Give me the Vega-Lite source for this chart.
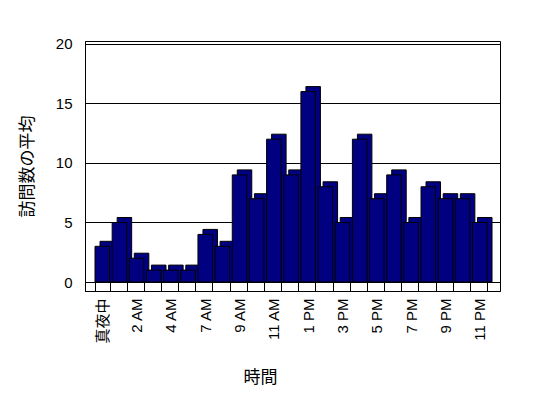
{
  "$schema": "https://vega.github.io/schema/vega-lite/v6.json",
  "width": 415,
  "height": 250,
  "autosize": "none",
  "padding": {"left": 85, "top": 41, "right": 48, "bottom": 107},
  "background": "white",
  "config": {
    "view": {"stroke": "black", "strokeWidth": 1},
    "font": "Liberation Sans, Noto Sans CJK JP"
  },
  "data": {
    "values": [
      {"hour": "真夜中", "visits": 3},
      {"hour": "1 AM", "visits": 5},
      {"hour": "2 AM", "visits": 2},
      {"hour": "3 AM", "visits": 1},
      {"hour": "4 AM", "visits": 1},
      {"hour": "5 AM", "visits": 1},
      {"hour": "7 AM", "visits": 4},
      {"hour": "8 AM", "visits": 3},
      {"hour": "9 AM", "visits": 9},
      {"hour": "10 AM", "visits": 7},
      {"hour": "11 AM", "visits": 12},
      {"hour": "12 PM", "visits": 9},
      {"hour": "1 PM", "visits": 16},
      {"hour": "2 PM", "visits": 8},
      {"hour": "3 PM", "visits": 5},
      {"hour": "4 PM", "visits": 12},
      {"hour": "5 PM", "visits": 7},
      {"hour": "6 PM", "visits": 9},
      {"hour": "7 PM", "visits": 5},
      {"hour": "8 PM", "visits": 8},
      {"hour": "9 PM", "visits": 7},
      {"hour": "10 PM", "visits": 7},
      {"hour": "11 PM", "visits": 5}
    ]
  },
  "layer": [
    {
      "mark": {"type": "bar", "fill": "#000080", "stroke": "black", "strokeWidth": 1, "xOffset": 5, "yOffset": -5},
      "encoding": {
        "x": {
          "field": "hour", "type": "nominal", "sort": null,
          "scale": {"paddingInner": 0.155, "paddingOuter": 0.67, "align": 0.435},
          "axis": {
            "title": "時間", "titleFontSize": 17, "titleFontWeight": "normal", "titleColor": "black",
            "titleX": 175, "titleY": 86, "titleBaseline": "middle",
            "labelAngle": -90, "labelFontSize": 15, "labelColor": "black", "labelPadding": 16,
            "labelOverlap": false,
            "labelExpr": "indexof(['真夜中','2 AM','4 AM','7 AM','9 AM','11 AM','1 PM','3 PM','5 PM','7 PM','9 PM','11 PM'], datum.value) >= 0 ? datum.label : ''",
            "tickBand": "extent", "tickSize": -9, "tickColor": "black", "domainColor": "black", "grid": false
          }
        },
        "y": {
          "field": "visits", "type": "quantitative",
          "scale": {"domain": [-0.756, 20.25], "nice": false, "zero": false},
          "axis": {
            "title": "訪問数の平均", "titleFontSize": 17, "titleFontWeight": "normal", "titleColor": "black", "titlePadding": 19,
            "values": [0, 5, 10, 15, 20], "grid": true, "gridColor": "black", "gridOpacity": 1,
            "ticks": false, "domainColor": "black", "labelFontSize": 15, "labelColor": "black", "labelPadding": 13
          }
        },
        "y2": {"datum": 0}
      }
    },
    {
      "mark": {"type": "bar", "fill": "#000080", "stroke": "black", "strokeWidth": 1},
      "encoding": {
        "x": {"field": "hour", "type": "nominal", "sort": null},
        "y": {"field": "visits", "type": "quantitative"},
        "y2": {"datum": 0}
      }
    }
  ]
}
